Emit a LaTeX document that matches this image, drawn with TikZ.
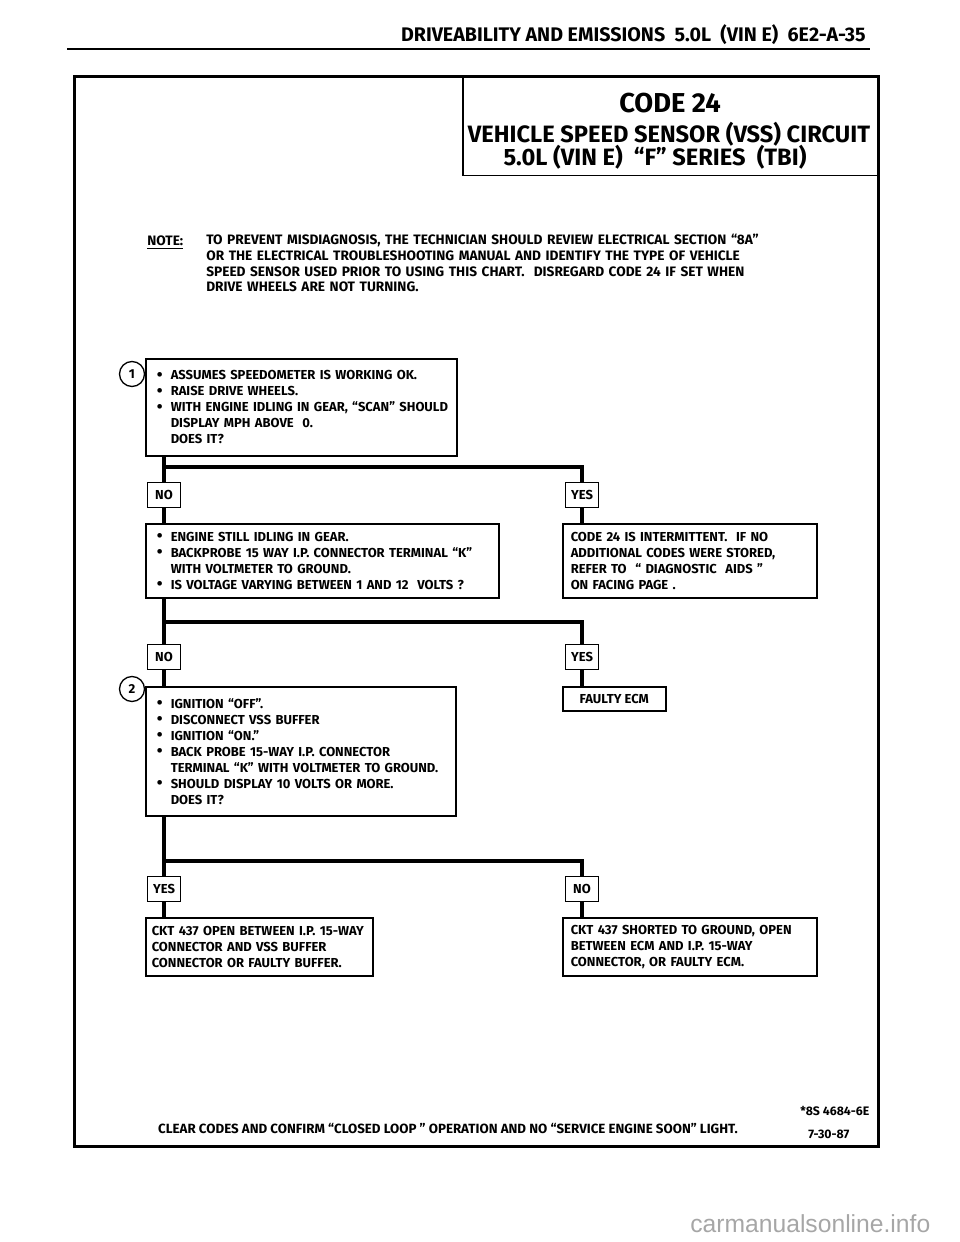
\documentclass[tikz,border=0pt]{standalone}
\usepackage{fontspec}
\setmainfont{Fira Sans}
\newfontfamily\wmfont{Liberation Sans}
\usetikzlibrary{positioning}
\newcommand\chart{\fontsize{7.8}{9.6}\selectfont\bfseries}
\newcommand\bt{\makebox[8.4pt][l]{\raisebox{-0.4pt}{\fontsize{10}{9.6}\selectfont\textbullet}}}
\newcommand\nb{\hspace*{8.4pt}}
\tikzset{
  frame/.style  ={draw, line width=1.8pt},
  qbox/.style   ={draw, rectangle, line width=0.9pt, anchor=north west, align=left, inner ysep=0pt, font=\chart, text width=#1},
  ans/.style    ={draw, rectangle, line width=0.9pt, minimum width=20pt, minimum height=15pt, inner sep=0pt, font=\chart},
  conn/.style   ={line width=2.4pt},
  stepnum/.style={draw, circle, line width=0.8pt, minimum size=15pt, inner sep=0pt, font=\chart},
  plain/.style  ={inner sep=0pt, font=\chart},
}
\begin{document}
\begin{tikzpicture}[x=0.6pt, y=-0.6pt]
  \useasboundingbox (0,0) rectangle (960,1242);

  % page header
  \node[plain, anchor=base east, font=\fontsize{11.8}{14}\selectfont\bfseries] (head) at (866,42) {DRIVEABILITY AND EMISSIONS\ \ 5.0L\ \ (VIN E)\ \ 6E2-A-35};
  \draw[line width=1.2pt] (67,49) -- (870,49);

  % chart frame and title
  \draw[frame] (74,77) rectangle (878,1146);
  \node[draw, line width=0.9pt, anchor=north west, minimum width=249.6pt, minimum height=58.8pt, inner sep=0pt] (title) at (462,77) {};
  \node[plain, anchor=base, font=\fontsize{16.4}{18}\selectfont\bfseries] (code) at (670,113) {CODE 24};
  \node[plain, anchor=base, font=\fontsize{14.2}{16}\selectfont\bfseries] (circ) at (669,143) {VEHICLE SPEED SENSOR (VSS) CIRCUIT};
  \node[plain, anchor=base, font=\fontsize{14.2}{16}\selectfont\bfseries] (ser) at (655,166) {5.0L (VIN E)\ \ “F” SERIES\ \ (TBI)};

  % note
  \node[plain, anchor=base west, font=\fontsize{8.2}{9.4}\selectfont\bfseries] (notelbl) at (147,246) {\underline{NOTE:}};
  \node[plain, anchor=north west, align=left, text width=360pt, font=\fontsize{8.2}{9.4}\selectfont\bfseries] (notebody) at (206,234)
    {TO PREVENT MISDIAGNOSIS, THE TECHNICIAN SHOULD REVIEW ELECTRICAL SECTION “8A”\\
     OR THE ELECTRICAL TROUBLESHOOTING MANUAL AND IDENTIFY THE TYPE OF VEHICLE\\
     SPEED SENSOR USED PRIOR TO USING THIS CHART.\ \ DISREGARD CODE 24 IF SET WHEN\\
     DRIVE WHEELS ARE NOT TURNING.};

  % step 1
  \node[stepnum] (s1) at (132,374) {1};
  \node[qbox=173.4pt, inner xsep=6.6pt, minimum height=58.2pt] (chk1) at (145,358)
    {\bt ASSUMES SPEEDOMETER IS WORKING OK.\\
     \bt RAISE DRIVE WHEELS.\\
     \mbox{\bt WITH ENGINE IDLING IN GEAR, “SCAN” SHOULD}\\
     \nb DISPLAY MPH ABOVE\ \ 0.\\
     \nb DOES IT?};
  \node[ans] (no1)  at (164,495) {NO};
  \node[ans] (yes1) at (582,495) {YES};

  % step 1 answers
  \node[qbox=198.6pt, inner xsep=6.6pt, minimum height=44.4pt] (chk2) at (145,523)
    {\bt ENGINE STILL IDLING IN GEAR.\\
     \bt BACKPROBE 15 WAY I.P. CONNECTOR TERMINAL “K”\\
     \nb WITH VOLTMETER TO GROUND.\\
     \bt IS VOLTAGE VARYING BETWEEN 1 AND 12\ \ VOLTS ?};
  \node[qbox=142.8pt, inner xsep=4.8pt, minimum height=44.4pt] (intm) at (562,523)
    {CODE 24 IS INTERMITTENT.\ \ IF NO\\
     ADDITIONAL CODES WERE STORED,\\
     REFER TO\ \ “ DIAGNOSTIC\ \ AIDS ”\\
     ON FACING PAGE .};
  \node[ans] (no2)  at (164,657) {NO};
  \node[ans] (yes2) at (582,657) {YES};

  % step 2
  \node[stepnum] (s2) at (132,689) {2};
  \node[qbox=172.8pt, inner xsep=6.6pt, minimum height=77.4pt] (chk3) at (145,686)
    {\bt IGNITION “OFF”.\\
     \bt DISCONNECT VSS BUFFER\\
     \bt IGNITION “ON.”\\
     \bt BACK PROBE 15-WAY I.P. CONNECTOR\\
     \nb TERMINAL “K” WITH VOLTMETER TO GROUND.\\
     \bt SHOULD DISPLAY 10 VOLTS OR MORE.\\
     \nb DOES IT?};
  \node[draw, rectangle, line width=0.9pt, anchor=north west, minimum width=61.8pt, minimum height=14.4pt, inner sep=0pt, font=\chart] (ecm) at (562,686) {FAULTY ECM};
  \node[ans] (yes3) at (164,889) {YES};
  \node[ans] (no3)  at (582,889) {NO};

  % results
  \node[qbox=129pt, inner xsep=3.6pt, minimum height=34.8pt] (open) at (145,917)
    {CKT 437 OPEN BETWEEN I.P. 15-WAY\\
     CONNECTOR AND VSS BUFFER\\
     CONNECTOR OR FAULTY BUFFER.};
  \node[qbox=142.8pt, inner xsep=4.8pt, minimum height=34.8pt] (short) at (562,917)
    {CKT 437 SHORTED TO GROUND, OPEN\\
     BETWEEN ECM AND I.P. 15-WAY\\
     CONNECTOR, OR FAULTY ECM.};

  % branches
  \coordinate (j1) at (164,467);
  \coordinate (j2) at (164,622);
  \coordinate (j3) at (164,861);
  \draw[conn] (chk1.south -| no1) -- (no1.north);
  \draw[conn] (j1) -| (yes1.north);
  \draw[conn] (no1.south) -- (no1.south |- chk2.north);
  \draw[conn] (yes1.south) -- (yes1.south |- intm.north);
  \draw[conn] (chk2.south -| no2) -- (no2.north);
  \draw[conn] (j2) -| (yes2.north);
  \draw[conn] (no2.south) -- (no2.south |- chk3.north);
  \draw[conn] (yes2.south) -- (yes2.south |- ecm.north);
  \draw[conn] (chk3.south -| yes3) -- (yes3.north);
  \draw[conn] (j3) -| (no3.north);
  \draw[conn] (yes3.south) -- (yes3.south |- open.north);
  \draw[conn] (no3.south) -- (no3.south |- short.north);

  % footer
  \node[plain, anchor=base, font=\fontsize{8}{9.6}\selectfont\bfseries] (clear) at (448,1133) {CLEAR CODES AND CONFIRM “CLOSED LOOP ” OPERATION AND NO “SERVICE ENGINE SOON” LIGHT.};
  \node[plain, anchor=base west, font=\fontsize{7.4}{8}\selectfont\bfseries] (refno) at (800,1115) {*8S 4684-6E};
  \node[plain, anchor=base west, font=\fontsize{7.4}{8}\selectfont\bfseries] (date) at (808,1138) {7-30-87};
  \node[plain, anchor=base west, text=gray!70, font=\wmfont\fontsize{14.8}{16}\selectfont] (wm) at (690,1232) {carmanualsonline.info};
\end{tikzpicture}
\end{document}
